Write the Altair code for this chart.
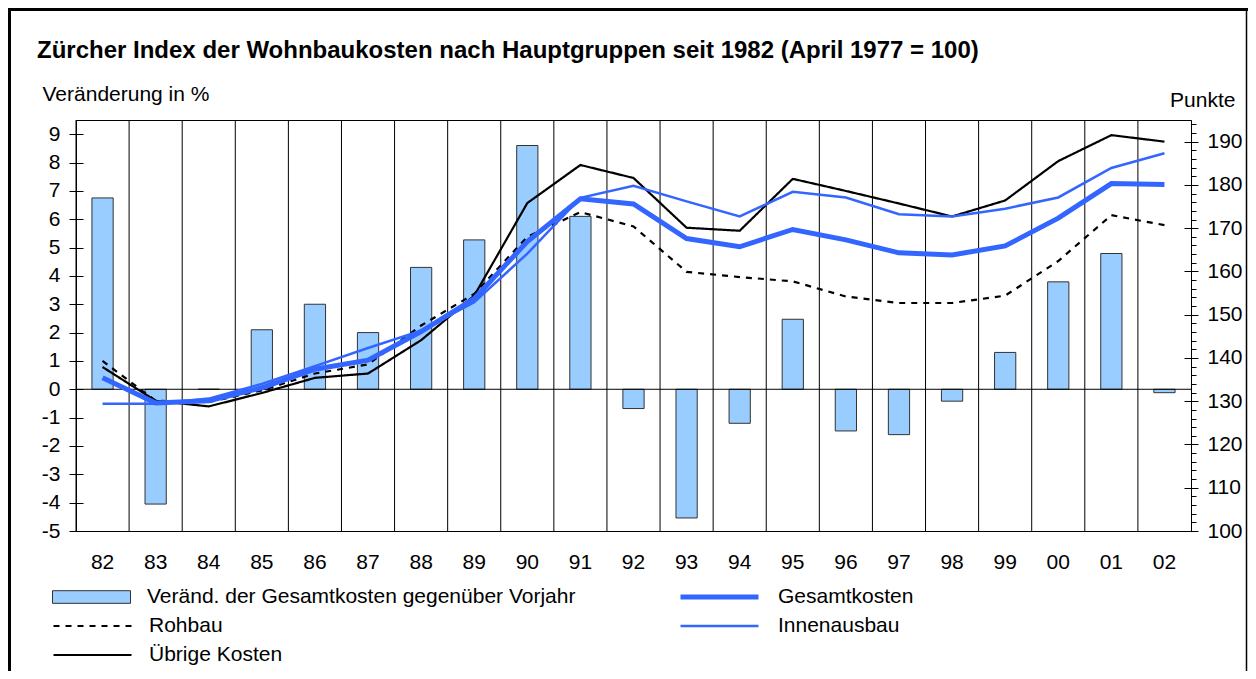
import altair as alt
import pandas as pd

# ---------------- data ----------------
years = ["82", "83", "84", "85", "86", "87", "88", "89", "90", "91", "92",
         "93", "94", "95", "96", "97", "98", "99", "00", "01", "02"]

veraenderung = [6.75, -4.05, 0.0, 2.1, 3.0, 2.0, 4.3, 5.27, 8.6, 6.1, -0.68,
                -4.54, -1.2, 2.47, -1.47, -1.6, -0.42, 1.3, 3.79, 4.79, -0.12]

gesamtkosten = [135.4, 129.6, 130.1, 133.1, 137.4, 139.5, 146.1, 153.7, 166.9, 176.8, 175.6,
                167.6, 165.7, 169.7, 167.3, 164.3, 163.8, 165.9, 172.3, 180.3, 180.1]

rohbau = [139.3, 130.1, 129.8, 132.5, 136.4, 138.5, 147.5, 154.8, 168.0, 173.7, 170.4,
          159.9, 158.7, 157.7, 154.2, 152.7, 152.7, 154.4, 162.4, 173.0, 170.7]

innenausbau = [129.4, 129.4, 130.6, 134.0, 138.1, 142.3, 146.3, 152.9, 164.1, 177.0, 179.8,
               176.2, 172.7, 178.4, 177.1, 173.2, 172.7, 174.5, 177.1, 183.9, 187.3]

uebrige = [137.9, 130.1, 128.8, 131.9, 135.4, 136.4, 144.1, 154.4, 175.8, 184.6, 181.6,
           170.1, 169.4, 181.4, 178.6, 175.7, 172.7, 176.4, 185.5, 191.5, 190.0]

left_ticks = list(range(-5, 10))
right_ticks = list(range(100, 196, 2))
right_major = list(range(100, 200, 10))

TITLE = "Zürcher Index der Wohnbaukosten nach Hauptgruppen seit 1982 (April 1977 = 100)"
BAR_LABEL = "Veränd. der Gesamtkosten gegenüber Vorjahr"
BLACK_SERIES = ["Rohbau", "Übrige Kosten"]
BLUE_SERIES = ["Gesamtkosten", "Innenausbau"]

# ---------------- tables ----------------
bars_df = pd.DataFrame({"Jahr": years, "pct": veraenderung, "leg": BAR_LABEL})
black_df = pd.DataFrame({
    "Jahr": years + years,
    "Punkte": rohbau + uebrige,
    "SerieS": [BLACK_SERIES[0]] * len(years) + [BLACK_SERIES[1]] * len(years),
})
blue_df = pd.DataFrame({
    "Jahr": years + years,
    "Punkte": gesamtkosten + innenausbau,
    "SerieB": [BLUE_SERIES[0]] * len(years) + [BLUE_SERIES[1]] * len(years),
})
zero_df = pd.DataFrame({"z": [0]})
one_df = pd.DataFrame({"k": [1]})

FONT = "Liberation Sans"
BLUE = "#3366ff"
BAR_FILL = "#99ccff"

W, H = 1115, 411
PAD = {"left": 68, "top": 112, "right": 57, "bottom": 140}

x_scale = alt.Scale(domain=years, paddingInner=0.6, paddingOuter=0.3)
x_bar = alt.X("Jahr:N", sort=years, scale=x_scale,
              axis=alt.Axis(orient="bottom", title=None, labels=True, labelFontSize=21,
                            labelPadding=20, ticks=False, domain=True, domainColor="black",
                            grid=False, labelAngle=0, labelColor="black"))
x_line = alt.X("Jahr:N", sort=years, scale=x_scale, bandPosition=0.5, axis=None)

# vertical separators between the years: band scale without padding, rule at band start
grid_rules = alt.Chart(bars_df).mark_rule(color="black", strokeWidth=1).encode(
    x=alt.X("Jahr:N", sort=years, bandPosition=0, axis=None,
            scale=alt.Scale(domain=years, paddingInner=0, paddingOuter=0))
)

yl_scale = alt.Scale(domain=[-5, 9.5], nice=False, zero=False)
yr_scale = alt.Scale(domain=[100, 195], nice=False, zero=False)

left_axis = alt.Axis(orient="left", title="Veränderung in %", values=left_ticks, tickSize=7,
                     labelExpr="'' + datum.value",
                     tickColor="black", domainColor="black", labelFontSize=21, labelPadding=9,
                     labelColor="black", grid=False, titleX=-34, titleY=-20, titleAngle=0,
                     titleAlign="left", titleBaseline="alphabetic", titleFontSize=21,
                     titleFontWeight="normal", titleColor="black")
left_inner = alt.Axis(orient="left", title=None, values=left_ticks, tickSize=7, offset=-7,
                      labels=False, domain=False, grid=False, tickColor="black")

right_axis = alt.Axis(orient="right", title="Punkte", values=right_ticks,
                      tickSize={"condition": {"test": "datum.value % 10 === 0", "value": 7}, "value": 5},
                      labelExpr="datum.value % 10 === 0 ? datum.label : ''",
                      tickColor="black", domainColor="black", labelFontSize=21, labelPadding=9,
                      labelColor="black", grid=False, titleX=44, titleY=-14, titleAngle=0,
                      titleAlign="right", titleBaseline="alphabetic", titleFontSize=21,
                      titleFontWeight="normal", titleColor="black")
right_inner = alt.Axis(orient="right", title=None, values=right_major, tickSize=7, offset=-7,
                       labels=False, domain=False, grid=False, tickColor="black")

bars = alt.Chart(bars_df).mark_bar(stroke="#333333", strokeWidth=1).encode(
    x=x_bar,
    y=alt.Y("pct:Q", scale=yl_scale, axis=left_axis),
    fill=alt.Fill("leg:N", scale=alt.Scale(domain=[BAR_LABEL], range=[BAR_FILL]),
                  legend=alt.Legend(orient="none", legendX=-24, legendY=464, title=None,
                                    symbolType="M-1,-0.162L1,-0.162L1,0.162L-1,0.162Z",
                                    symbolSize=6084, symbolStrokeColor="#333333",
                                    symbolStrokeWidth=1, labelFontSize=21, labelOffset=16,
                                    labelLimit=0, clipHeight=26, padding=0, labelColor="black")),
)

zero = alt.Chart(zero_df).mark_rule(color="black", strokeWidth=1).encode(
    y=alt.Y("z:Q", scale=yl_scale, axis=left_inner)
)

# decorative outer frame (left, top, right edges)
frame_left = alt.Chart(one_df).mark_rule(color="black", strokeWidth=3).encode(
    x=alt.value(-66.5), y=alt.value(-112), y2=alt.value(H + PAD["bottom"]))
frame_top = alt.Chart(one_df).mark_rule(color="black", strokeWidth=3).encode(
    y=alt.value(-110.5), x=alt.value(-68), x2=alt.value(W + PAD["right"]))
frame_right = alt.Chart(one_df).mark_rule(color="black", strokeWidth=1.5).encode(
    x=alt.value(W + PAD["right"] - 1.5), y=alt.value(-112), y2=alt.value(H + PAD["bottom"]))

left_layer = alt.layer(bars, zero, frame_left, frame_top, frame_right).resolve_axis(y="independent")

black = alt.Chart(black_df).mark_line(color="black", strokeWidth=2.2).encode(
    x=x_line,
    y=alt.Y("Punkte:Q", scale=yr_scale, axis=right_axis),
    strokeDash=alt.StrokeDash("SerieS:N",
                              scale=alt.Scale(domain=BLACK_SERIES, range=[[6, 6], [1, 0]]),
                              legend=alt.Legend(orient="none", legendX=-24, legendY=493, title=None,
                                                symbolType="stroke", symbolSize=6084,
                                                symbolStrokeColor="black", symbolStrokeWidth=2.2,
                                                labelFontSize=21, labelOffset=16, labelLimit=0,
                                                clipHeight=26, rowPadding=3, padding=0,
                                                labelColor="black")),
)

blue = alt.Chart(blue_df).mark_line(color=BLUE).encode(
    x=x_line,
    y=alt.Y("Punkte:Q", scale=yr_scale, axis=right_inner),
    strokeWidth=alt.StrokeWidth("SerieB:N",
                                scale=alt.Scale(type="ordinal", domain=BLUE_SERIES, range=[5, 2.5]),
                                legend=alt.Legend(orient="none", legendX=602, legendY=464, title=None,
                                                  symbolType="stroke", symbolSize=6084,
                                                  symbolStrokeColor=BLUE,
                                                  labelFontSize=21, labelOffset=17, labelLimit=0,
                                                  clipHeight=26, rowPadding=3, padding=0,
                                                  labelColor="black")),
)

right_layer = alt.layer(black, blue).resolve_axis(y="independent")

chart = alt.layer(grid_rules, left_layer, right_layer).resolve_scale(
    x="independent", y="independent").properties(
    width=W, height=H,
    autosize=alt.AutoSizeParams(type="none"),
    padding=PAD,
    background="white",
    title=alt.TitleParams(TITLE, anchor="start", frame="group", fontSize=24, fontWeight="bold",
                          font=FONT, color="black", dx=-39, dy=75, offset=0,
                          baseline="alphabetic"),
).configure(font=FONT).configure_view(stroke="black", strokeWidth=1)

chart.save("out.html", embed_options={"renderer": "svg", "actions": False})
